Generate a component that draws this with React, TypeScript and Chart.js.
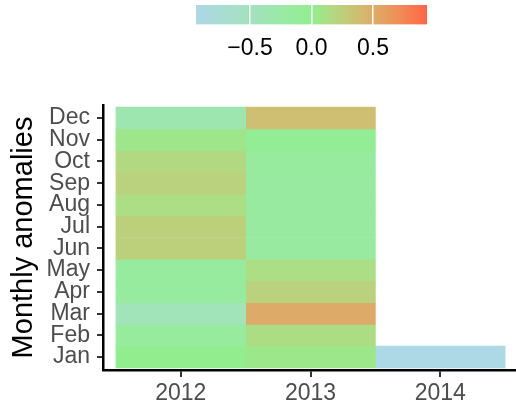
import React, { useEffect, useRef } from 'react';
import { Chart, registerables } from 'chart.js';

Chart.register(...registerables);

const months = ['Jan', 'Feb', 'Mar', 'Apr', 'May', 'Jun', 'Jul', 'Aug', 'Sep', 'Oct', 'Nov', 'Dec'];
const years = ['2012', '2013', '2014'];
const values2012 = [0.01, -0.14, -0.44, -0.15, -0.15, 0.24, 0.24, 0.13, 0.22, 0.17, 0.07, -0.34];
const values2013 = [0.06, 0.14, 0.51, 0.22, 0.13, -0.17, -0.17, -0.16, -0.18, -0.15, -0.05, 0.37];
const values2014 = [-0.94];
const colorLimits = [-0.94, 0.94];
const colorTicks = [-0.5, 0, 0.5];
const colorTickLabels = ['\u22120.5', '0.0', '0.5'];
const lowColor = [173, 216, 230];
const midColor = [144, 238, 144];
const highColor = [255, 99, 71];

const FONT = "'Liberation Sans', Arial, sans-serif";

function toLin(c: number) {
  c /= 255;
  return c <= 0.04045 ? c / 12.92 : Math.pow((c + 0.055) / 1.055, 2.4);
}
function fromLin(c: number) {
  const v = c <= 0.0031308 ? 12.92 * c : 1.055 * Math.pow(c, 1 / 2.4) - 0.055;
  return Math.max(0, Math.min(255, Math.round(v * 255)));
}
function rgbToLab(rgb: number[]) {
  const r = toLin(rgb[0]), g = toLin(rgb[1]), b = toLin(rgb[2]);
  const X = (0.4124564 * r + 0.3575761 * g + 0.1804375 * b) / 0.95047;
  const Y = 0.2126729 * r + 0.7151522 * g + 0.072175 * b;
  const Z = (0.0193339 * r + 0.119192 * g + 0.9503041 * b) / 1.08883;
  const f = (t: number) => (t > 0.008856 ? Math.cbrt(t) : 7.787 * t + 16 / 116);
  const fx = f(X), fy = f(Y), fz = f(Z);
  return [116 * fy - 16, 500 * (fx - fy), 200 * (fy - fz)];
}
function labToRgb(lab: number[]) {
  const fy = (lab[0] + 16) / 116;
  const fx = fy + lab[1] / 500;
  const fz = fy - lab[2] / 200;
  const inv = (t: number) => (t * t * t > 0.008856 ? t * t * t : (t - 16 / 116) / 7.787);
  const X = inv(fx) * 0.95047, Y = inv(fy), Z = inv(fz) * 1.08883;
  const r = 3.2404542 * X - 1.5371385 * Y - 0.4985314 * Z;
  const g = -0.969266 * X + 1.8760108 * Y + 0.041556 * Z;
  const b = 0.0556434 * X - 0.2040259 * Y + 1.0572252 * Z;
  return `rgb(${fromLin(r)},${fromLin(g)},${fromLin(b)})`;
}
const labLow = rgbToLab(lowColor), labMid = rgbToLab(midColor), labHigh = rgbToLab(highColor);
function colorFor(v: number) {
  const m = Math.max(Math.abs(colorLimits[0]), Math.abs(colorLimits[1]));
  let t = v / m / 2 + 0.5;
  t = Math.max(0, Math.min(1, t));
  let a: number[], b: number[], u: number;
  if (t <= 0.5) { a = labLow; b = labMid; u = t / 0.5; } else { a = labMid; b = labHigh; u = (t - 0.5) / 0.5; }
  return labToRgb([a[0] + (b[0] - a[0]) * u, a[1] + (b[1] - a[1]) * u, a[2] + (b[2] - a[2]) * u]);
}

const yearValues = [values2012, values2013, values2014];

export default function App() {
  const mainRef = useRef<HTMLCanvasElement>(null);
  const barRef = useRef<HTMLCanvasElement>(null);

  useEffect(() => {
    const datasets = yearValues.map((vals, yi) => ({
      label: years[yi],
      data: vals.map((v, mi) => ({ y: mi, x: [yi + 0.5, yi + 1.5] })),
      backgroundColor: vals.map((v) => colorFor(v)),
      borderWidth: 0,
      barPercentage: 1,
      categoryPercentage: 1,
      grouped: false,
    }));
    const main = new Chart(mainRef.current!, {
      type: 'bar',
      data: { datasets: datasets as any },
      options: {
        animation: false,
        responsive: false,
        indexAxis: 'y',
        layout: { padding: { top: 105, left: 0, right: 0, bottom: 0 } },
        plugins: { legend: { display: false }, tooltip: { enabled: false } },
        scales: {
          x: {
            type: 'linear',
            min: 0.4,
            max: 3.584,
            offset: false,
            afterBuildTicks: (s: any) => { s.ticks = years.map((_, i) => ({ value: i + 1 })); },
            afterFit: (s: any) => { s.height = 33; },
            ticks: {
              autoSkip: false,
              maxRotation: 0,
              padding: 3,
              color: '#4D4D4D',
              font: { family: FONT, size: 23 },
              callback: (_v: any, i: number) => years[i],
            },
            grid: { offset: false, drawOnChartArea: false, drawTicks: true, tickLength: 7, color: '#333333', lineWidth: 2 },
            border: { display: true, color: '#000000', width: 2.5 },
          },
          y: {
            type: 'linear',
            min: -0.6,
            max: 11.6,
            offset: false,
            afterBuildTicks: (s: any) => { s.ticks = months.map((_, i) => ({ value: i })); },
            afterFit: (s: any) => { s.width = 103; },
            ticks: {
              autoSkip: false,
              padding: 7,
              color: '#4D4D4D',
              font: { family: FONT, size: 23 },
              callback: (_v: any, i: number) => months[i],
            },
            grid: { offset: false, drawOnChartArea: false, drawTicks: true, tickLength: 6, color: '#333333', lineWidth: 2 },
            border: { display: true, color: '#000000', width: 2.5 },
            title: {
              display: true,
              text: 'Monthly anomalies',
              color: '#000000',
              font: { family: FONT, size: 29 },
              padding: { top: 6.6, bottom: 0 },
            },
          },
        },
      },
    });

    const bar = new Chart(barRef.current!, {
      type: 'bar',
      data: {
        labels: [''],
        datasets: [
          {
            data: [[colorLimits[0], colorLimits[1]]] as any,
            borderWidth: 0,
            barPercentage: 1,
            categoryPercentage: 1,
            backgroundColor: (ctx: any) => {
              const ca = ctx.chart.chartArea;
              if (!ca) return 'rgba(0,0,0,0)';
              const g = ctx.chart.ctx.createLinearGradient(ca.left, 0, ca.right, 0);
              const n = 40;
              for (let i = 0; i <= n; i++) {
                const v = colorLimits[0] + ((colorLimits[1] - colorLimits[0]) * i) / n;
                g.addColorStop(i / n, colorFor(v));
              }
              return g;
            },
          },
        ],
      },
      options: {
        animation: false,
        responsive: false,
        indexAxis: 'y',
        layout: { padding: { top: 5, left: 196, right: 89, bottom: 0 } },
        plugins: { legend: { display: false }, tooltip: { enabled: false } },
        scales: {
          x: {
            type: 'linear',
            min: colorLimits[0],
            max: colorLimits[1],
            offset: false,
            afterBuildTicks: (s: any) => { s.ticks = colorTicks.map((v) => ({ value: v })); },
            afterFit: (s: any) => { s.height = 45.5; },
            ticks: {
              autoSkip: false,
              maxRotation: 0,
              padding: 10,
              color: '#000000',
              font: { family: FONT, size: 23 },
              callback: (_v: any, i: number) => colorTickLabels[i],
            },
            grid: { z: 1, offset: false, drawOnChartArea: true, drawTicks: false, color: '#FFFFFF', lineWidth: 1.5 },
            border: { display: false },
          },
          y: { display: false },
        },
      },
    });

    return () => {
      main.destroy();
      bar.destroy();
    };
  }, []);

  return (
    <div style={{ position: 'fixed', left: 0, top: 0, width: 516, height: 403, background: '#FFFFFF' }}>
      <canvas ref={mainRef} width={516} height={403} style={{ position: 'absolute', left: 0, top: 0 }} />
      <canvas ref={barRef} width={516} height={70} style={{ position: 'absolute', left: 0, top: 0 }} />
    </div>
  );
}
